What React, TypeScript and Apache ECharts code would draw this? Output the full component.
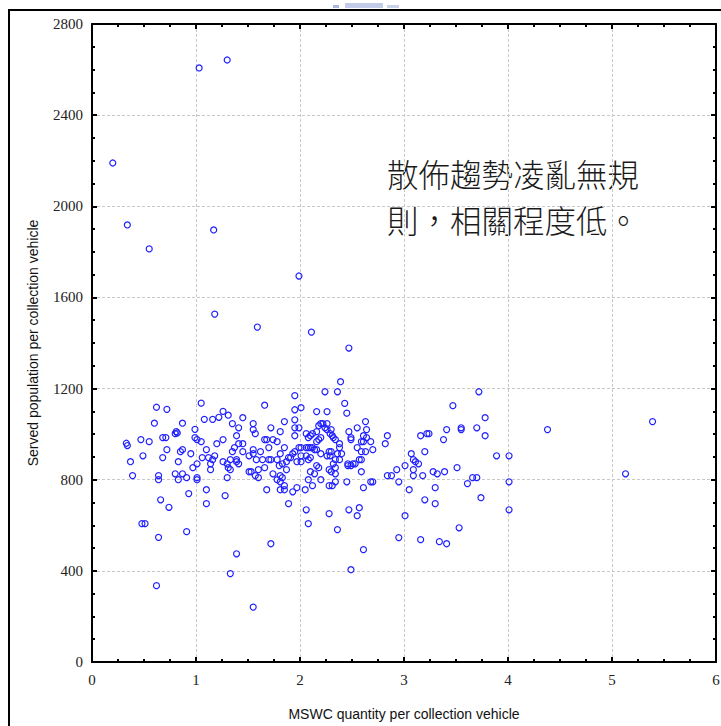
import React, { useEffect, useRef } from "react";
import * as echarts from "echarts";

const xTicks = { min: 0, max: 6, interval: 1 };
const yTicks = { min: 0, max: 2800, interval: 400 };

const xAxisName = "MSWC quantity per collection vehicle";
const yAxisName = "Served population per collection vehicle";
const noteLines = ["散佈趨勢凌亂無規", "則，相關程度低。"];

const outlierPoints: [number, number][] = [
  [0.2, 2190], [0.34, 1918], [0.55, 1813], [1.03, 2607], [1.3, 2642], [1.17, 1896],
  [1.18, 1527], [1.59, 1470], [1.99, 1694], [2.11, 1448], [2.47, 1378], [1.55, 241],
];

const leftPoints: [number, number][] = [
  [0.33, 960], [0.34, 950], [0.37, 879], [0.39, 818], [0.47, 976], [0.49, 905], [0.55, 967],
  [0.48, 607], [0.51, 607], [0.6, 1048], [0.62, 1118], [0.72, 1109], [0.64, 818], [0.64, 800],
  [0.66, 712], [0.74, 679], [0.64, 547], [0.62, 335], [0.68, 985], [0.71, 985], [0.68, 897],
  [0.72, 932], [0.8, 1002], [0.81, 1011], [0.82, 1005], [0.87, 1048], [0.85, 923], [0.87, 932],
  [0.83, 879], [0.8, 826], [0.83, 800], [0.87, 826], [0.91, 809], [0.93, 739], [0.91, 572],
  [0.95, 914], [0.99, 1021], [0.99, 985], [1.01, 976], [1.05, 967], [1.05, 1136], [0.97, 853],
  [1.01, 870], [1.01, 809], [1.01, 800], [1.08, 1065], [1.1, 932], [1.06, 897], [1.12, 897],
  [1.1, 756], [1.1, 695], [1.14, 870], [1.14, 844], [1.16, 1065], [1.22, 1074], [1.26, 1100],
  [1.31, 1083], [1.2, 958], [1.26, 976], [1.18, 905], [1.16, 888], [1.26, 879], [1.3, 870],
  [1.31, 853], [1.33, 844], [1.3, 809], [1.28, 730], [1.33, 888], [1.35, 1046], [1.35, 923],
  [1.37, 941], [1.39, 888], [1.39, 879], [1.39, 993], [1.41, 1028], [1.45, 1072], [1.41, 958],
  [1.45, 958], [1.41, 870], [1.45, 923], [1.39, 475], [1.33, 388],
];

const middlePoints: [number, number][] = [
  [1.51, 905], [1.51, 835], [1.53, 835], [1.55, 1046], [1.55, 1020], [1.57, 1002], [1.55, 932],
  [1.55, 914], [1.58, 888], [1.6, 844], [1.62, 923], [1.57, 818], [1.6, 809], [1.66, 1127],
  [1.64, 888], [1.66, 976], [1.68, 976], [1.7, 941], [1.68, 756], [1.66, 853], [1.72, 1028],
  [1.7, 888], [1.72, 888], [1.74, 976], [1.74, 826], [1.72, 519], [1.78, 967], [1.78, 800],
  [1.78, 888], [1.8, 862], [1.81, 1011], [1.81, 914], [1.81, 818], [1.81, 791], [1.81, 756],
  [1.83, 870], [1.83, 809], [1.85, 756], [1.85, 774], [1.85, 1055], [1.85, 941], [1.87, 879],
  [1.87, 844], [1.89, 695], [1.89, 897], [1.91, 897], [1.93, 914], [1.95, 923], [1.93, 747],
  [1.95, 1169], [1.95, 1107], [1.95, 1063], [1.95, 1028], [1.95, 993], [1.97, 765], [1.99, 1028],
  [2.01, 1116], [1.99, 941], [2.01, 941], [2.01, 905], [2.01, 879], [1.97, 879], [2.05, 756],
  [2.06, 668], [2.08, 607], [2.06, 1002], [2.08, 985], [2.1, 993], [2.12, 1002], [2.06, 941],
  [2.08, 941], [2.1, 941], [2.12, 941], [2.06, 905], [2.1, 897], [2.08, 888], [2.08, 800],
  [2.12, 774], [2.1, 835], [2.14, 826], [2.16, 862], [2.18, 853], [2.2, 800], [2.14, 932],
  [2.16, 967], [2.18, 976], [2.2, 985], [2.16, 1011], [2.18, 1037], [2.2, 1046], [2.22, 1046],
  [2.24, 1028], [2.26, 1020], [2.26, 1046], [2.16, 1099], [2.24, 1186], [2.26, 1099], [2.16, 932],
  [2.2, 914], [2.26, 905], [2.28, 923], [2.28, 844], [2.28, 774], [2.28, 651],
];

const rightPoints: [number, number][] = [
  [2.39, 1230], [2.36, 1186], [2.43, 1135], [2.45, 1092], [2.47, 1011], [2.49, 985], [2.49, 976],
  [2.55, 1028], [2.63, 1055], [2.64, 1020], [2.61, 993], [2.64, 985], [2.59, 967], [2.61, 967],
  [2.68, 967], [2.3, 1020], [2.29, 1002], [2.31, 993], [2.32, 985], [2.34, 976], [2.38, 958],
  [2.38, 941], [2.4, 914], [2.36, 914], [2.38, 888], [2.34, 888], [2.32, 870], [2.34, 853],
  [2.55, 941], [2.59, 923], [2.63, 923], [2.57, 888], [2.59, 888], [2.7, 932], [2.46, 870],
  [2.46, 862], [2.49, 862], [2.53, 870], [2.51, 870], [2.59, 835], [2.45, 791], [2.61, 765],
  [2.68, 791], [2.7, 791], [2.57, 677], [2.47, 668], [2.55, 642], [2.36, 581], [2.61, 493],
  [2.49, 405], [2.34, 826], [2.31, 774], [2.34, 791], [2.29, 905], [2.3, 923], [2.3, 835],
  [2.82, 958], [2.84, 993], [2.84, 818], [2.88, 818], [2.93, 844], [2.95, 791], [3.01, 862],
  [3.05, 756], [3.01, 642], [2.95, 546], [3.07, 914], [3.09, 888], [3.11, 879], [3.14, 870],
  [3.09, 844], [3.09, 818], [3.18, 818], [3.16, 993], [3.22, 1002], [3.24, 1002], [3.2, 923],
  [3.2, 712], [3.16, 537], [3.3, 695], [3.3, 765], [3.34, 528], [3.41, 519], [3.28, 835],
  [3.32, 826], [3.39, 835], [3.38, 976], [3.41, 1020], [3.47, 1125], [3.51, 853], [3.53, 589],
  [3.55, 1028], [3.55, 1020], [3.61, 783], [3.66, 809], [3.7, 809], [3.72, 1186], [3.7, 1028],
  [3.78, 1072], [3.78, 993], [3.74, 721], [3.89, 905], [4.01, 905], [4.01, 791], [4.01, 668],
  [4.38, 1020], [5.39, 1055], [5.13, 826],
];

const allPoints = [...outlierPoints, ...leftPoints, ...middlePoints, ...rightPoints];

const serif = "Liberation Serif";
const sans = "Liberation Sans";

function axisCommon(range: { min: number; max: number; interval: number }) {
  return {
    type: "value" as const,
    min: range.min,
    max: range.max,
    interval: range.interval,
    axisLine: { show: true, onZero: false, lineStyle: { color: "#000", width: 2 } },
    axisTick: { show: true, inside: true, length: 5, lineStyle: { color: "#000", width: 2 } },
    minorTick: { show: true, splitNumber: 4, length: 3, lineStyle: { color: "#000", width: 2 } },
  };
}

const plain = (v: number) => String(v);

export default function App() {
  const ref = useRef<HTMLDivElement>(null);
  useEffect(() => {
    if (!ref.current) return;
    const chart = echarts.init(ref.current, undefined, { renderer: "svg" });
    chart.setOption({
      animation: false,
      backgroundColor: "#fff",
      grid: {
        left: 92,
        top: 24,
        right: 5,
        bottom: 64,
        containLabel: false,
        outerBoundsMode: "none",
      },
      xAxis: [
        {
          ...axisCommon(xTicks),
          position: "bottom",
          name: xAxisName,
          nameLocation: "middle",
          nameGap: 45,
          nameTextStyle: { fontFamily: sans, fontSize: 14, color: "#111" },
          axisLabel: { fontFamily: serif, fontSize: 15, color: "#222", margin: 10, formatter: plain },
          splitLine: { show: true, lineStyle: { color: "#c8c8c8", type: [3, 2], width: 1 } },
        },
        {
          ...axisCommon(xTicks),
          position: "top",
          axisLabel: { show: false },
          splitLine: { show: false },
        },
      ],
      yAxis: [
        {
          ...axisCommon(yTicks),
          position: "left",
          name: yAxisName,
          nameLocation: "middle",
          nameGap: 52,
          nameTextStyle: { fontFamily: sans, fontSize: 14, color: "#111" },
          axisLabel: { fontFamily: serif, fontSize: 15, color: "#222", margin: 9, formatter: plain },
          splitLine: { show: true, lineStyle: { color: "#c8c8c8", type: [3, 2], width: 1 } },
        },
        {
          ...axisCommon(yTicks),
          position: "right",
          axisLabel: { show: false },
          splitLine: { show: false },
        },
      ],
      series: [
        {
          type: "scatter",
          xAxisIndex: 0,
          yAxisIndex: 0,
          symbol: "circle",
          symbolSize: 6,
          itemStyle: { color: "rgba(0,0,0,0)", borderColor: "#2020ff", borderWidth: 1.2, opacity: 1 },
          emphasis: { disabled: true },
          data: allPoints,
        },
      ],
      graphic: [
        {
          type: "rect",
          silent: true,
          shape: { x: 9, y: 10, width: 800, height: 800 },
          style: { fill: "none", stroke: "#000", lineWidth: 2 },
        },
        { type: "rect", silent: true, shape: { x: 333, y: 5, width: 6, height: 3 }, style: { fill: "#aeb8dc" } },
        { type: "rect", silent: true, shape: { x: 345, y: 3, width: 38, height: 5 }, style: { fill: "#c2cbe8" } },
        { type: "rect", silent: true, shape: { x: 387, y: 5, width: 12, height: 3 }, style: { fill: "#c8d0ea" } },
        {
          type: "text",
          silent: true,
          x: 387,
          y: 173,
          style: {
            text: noteLines[0],
            fontSize: 31.5,
            fontWeight: 300,
            fontFamily: "Noto Sans CJK TC",
            fill: "#1a1a1a",
            align: "left",
            verticalAlign: "middle",
          },
        },
        {
          type: "text",
          silent: true,
          x: 387,
          y: 219,
          style: {
            text: noteLines[1],
            fontSize: 31.5,
            fontWeight: 300,
            fontFamily: "Noto Sans CJK TC",
            fill: "#1a1a1a",
            align: "left",
            verticalAlign: "middle",
          },
        },
      ],
    });
    return () => chart.dispose();
  }, []);
  return (
    <div
      ref={ref}
      style={{ position: "fixed", left: 0, top: 0, width: 721, height: 726, background: "#fff" }}
    />
  );
}
